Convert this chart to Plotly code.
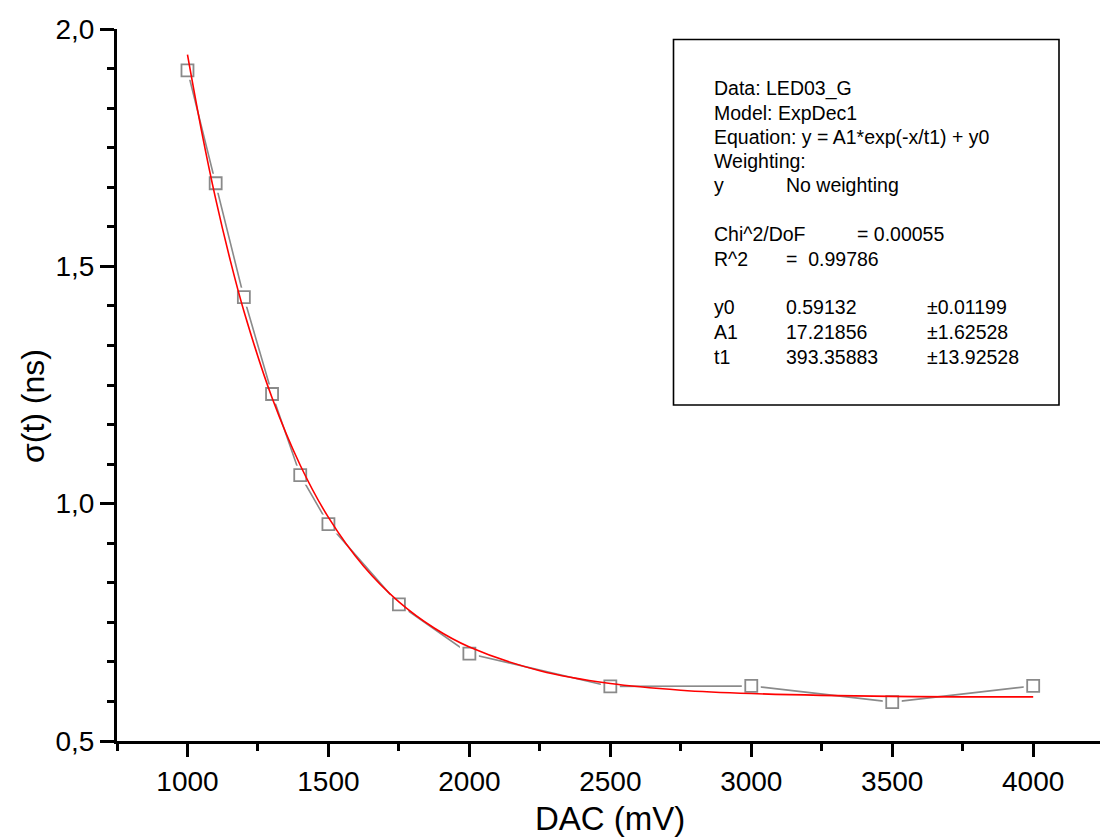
import plotly.graph_objects as go

# ---- data ----
dac_mv = [1000, 1100, 1200, 1300, 1400, 1500, 1750, 2000, 2500, 3000, 3500, 4000]
sigma_ns = [1.913, 1.675, 1.435, 1.231, 1.060, 0.957, 0.788, 0.684, 0.615, 0.616, 0.582, 0.616]

fit_x = [1000, 1050, 1100, 1150, 1200, 1300, 1400, 1500, 1625, 1750, 1875, 2000,
         2250, 2500, 2750, 3000, 3500, 4000]
fit_y = [1.946, 1.785, 1.642, 1.517, 1.406, 1.223, 1.081, 0.971, 0.868, 0.793, 0.738, 0.698,
         0.648, 0.621, 0.607, 0.600, 0.594, 0.593]

info_lines = [
    ("Data: LED03_G", None, None),
    ("Model: ExpDec1", None, None),
    ("Equation: y = A1*exp(-x/t1) + y0", None, None),
    ("Weighting:", None, None),
    ("y", "No weighting", None),
    ("Chi^2/DoF", None, "= 0.00055"),
    ("R^2", "=  0.99786", None),
    ("y0", "0.59132", "±0.01199"),
    ("A1", "17.21856", "±1.62528"),
    ("t1", "393.35883", "±13.92528"),
]

# ---- layout geometry (pixels) ----
W, H = 1100, 837
L, R, T, B = 117, 0, 29, 96
PW, PH = W - L - R, H - T - B

def px(xp):
    return (xp - L) / PW

def py(yp):
    return (H - B - yp) / PH

FONT = "Liberation Sans, Arial, sans-serif"
GRAY = "#8a8a8a"

fig = go.Figure()

# connecting line
fig.add_trace(go.Scatter(x=dac_mv, y=sigma_ns, mode="lines",
                         line=dict(color=GRAY, width=1.6), hoverinfo="skip",
                         showlegend=False))
# white halo around markers (gap effect)
fig.add_trace(go.Scatter(x=dac_mv, y=sigma_ns, mode="markers",
                         marker=dict(symbol="square", size=19, color="white",
                                     line=dict(width=0)),
                         hoverinfo="skip", showlegend=False))
# open square markers
fig.add_trace(go.Scatter(x=dac_mv, y=sigma_ns, mode="markers",
                         marker=dict(symbol="square-open", size=12, color=GRAY,
                                     line=dict(width=1.8, color=GRAY)),
                         showlegend=False))
# fit curve
fig.add_trace(go.Scatter(x=fit_x, y=fit_y, mode="lines",
                         line=dict(color="#ff0000", width=1.6, shape="spline"),
                         showlegend=False))

fig.update_layout(
    width=W, height=H,
    margin=dict(l=L, r=R, t=T, b=B),
    paper_bgcolor="white", plot_bgcolor="white",
    separators=",.",
    font=dict(family=FONT, color="black"),
    showlegend=False,
)

fig.update_xaxes(
    range=[750, 4237], showgrid=False, zeroline=False,
    showline=True, linecolor="black", linewidth=3,
    ticks="outside", ticklen=13, tickwidth=2.6, tickcolor="black",
    tick0=1000, dtick=500,
    tickfont=dict(size=28, family=FONT, color="black"),
    minor=dict(ticks="outside", ticklen=7, tickwidth=2.6, tickcolor="black", dtick=250, tick0=750),
)
fig.update_yaxes(
    range=[0.5, 2.0], showgrid=False, zeroline=False,
    showline=True, linecolor="black", linewidth=3,
    ticks="outside", ticklen=14, tickwidth=2.6, tickcolor="black",
    tick0=0.5, dtick=0.5, tickformat=".1f",
    tickfont=dict(size=28, family=FONT, color="black"),
    minor=dict(ticks="outside", ticklen=7, tickwidth=2.6, tickcolor="black",
               dtick=0.5 / 6, tick0=0.5),
)

annotations = [
    dict(text="DAC (mV)", x=px(610), y=py(818), xref="paper", yref="paper",
         showarrow=False, xanchor="center", yanchor="middle",
         font=dict(size=33, family=FONT, color="black")),
    dict(text="σ(t) (ns)", x=px(33), y=py(406), xref="paper", yref="paper",
         showarrow=False, xanchor="center", yanchor="middle", textangle=-90,
         font=dict(size=32, family=FONT, color="black")),
]

line_y = [88.5, 112.7, 136.7, 161, 185, 234, 258.7, 307.3, 332.3, 356.7]
col_x = [712, 783.5, 925]
for (c1, c2, c3), yp in zip(info_lines, line_y):
    for txt, xp in ((c1, col_x[0]), (c2, col_x[1]), (c3, col_x[2])):
        if txt is None:
            continue
        if txt.startswith("= 0.00055"):
            xp = 855
        annotations.append(dict(text=txt, x=px(xp), y=py(yp), xref="paper", yref="paper",
                                showarrow=False, xanchor="left", yanchor="middle",
                                font=dict(size=19.5, family=FONT, color="black")))

fig.update_layout(annotations=annotations)

fig.add_shape(type="rect", xref="paper", yref="paper",
              x0=px(673.5), x1=px(1059), y0=py(405), y1=py(39.5),
              line=dict(color="black", width=1.6), fillcolor="rgba(0,0,0,0)")

fig.write_html("out.html")
